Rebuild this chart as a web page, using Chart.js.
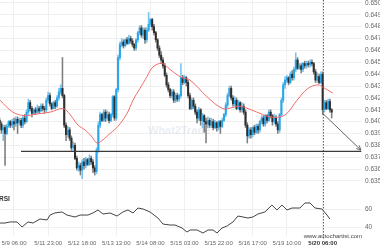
<!DOCTYPE html>
<html>
<head>
<meta charset="utf-8">
<script src="https://cdn.jsdelivr.net/npm/chart.js@4.4.0/dist/chart.umd.min.js"></script>
<style>
  html, body { margin: 0; padding: 0; background: #fff; }
  #wrap { position: relative; width: 380px; height: 250px; overflow: hidden; }
  #priceChart { position: absolute; left: 0; top: 0; }
  #rsiChart { position: absolute; left: 0; top: 192px; }
</style>
</head>
<body>
<div id="wrap">
  <canvas id="priceChart" width="380" height="192"></canvas>
  <canvas id="rsiChart" width="380" height="58"></canvas>
</div>
<script>
// x = hour index, 0 = 5/9 06:00 (trading hours only)
const timeLabels = ["5/9 06:00", "5/11 23:00", "5/12 18:00", "5/13 13:00", "5/14 08:00",
  "5/15 03:00", "5/15 22:00", "5/16 17:00", "5/19 10:00", "5/20 06:00"];
const timeTicks = [0, 19, 38, 57, 76, 95, 114, 133, 152, 172];
const priceTicks = [0.635, 0.636, 0.637, 0.638, 0.639, 0.640, 0.641, 0.642,
  0.643, 0.644, 0.645, 0.646, 0.647, 0.648, 0.649, 0.650];
const rsiTicks = [40, 60];

const firstIndex = -8;
// [open, high, low, close]
const ohlc = [
  [0.6401,0.6403,0.6395,0.6398],[0.6398,0.6400,0.6390,0.6393],[0.6393,0.6397,0.6384,0.6395],[0.6395,0.6397,0.6363,0.6390],
  [0.6390,0.6398,0.6389,0.6396],[0.6396,0.6401,0.6395,0.6400],[0.6400,0.6401,0.6395,0.6397],[0.6397,0.6402,0.6395,0.6400],
  [0.6400,0.6403,0.6393,0.6398],[0.6398,0.6404,0.6396,0.6402],[0.6402,0.6404,0.6390,0.6399],[0.6399,0.6403,0.6397,0.6401],
  [0.6401,0.6403,0.6395,0.6397],[0.6397,0.6405,0.6395,0.6403],[0.6403,0.6406,0.6398,0.6400],[0.6400,0.6410,0.6399,0.6408],
  [0.6408,0.6419,0.6406,0.6416],[0.6416,0.6418,0.6409,0.6411],
  [0.6411,0.6413,0.6404,0.6407],[0.6407,0.6411,0.6406,0.6410],[0.6410,0.6412,0.6406,0.6408],[0.6408,0.6414,0.6407,0.6411],
  [0.6411,0.6413,0.6407,0.6409],[0.6409,0.6415,0.6408,0.6413],[0.6413,0.6415,0.6409,0.6411],[0.6411,0.6413,0.6407,0.6410],
  [0.6410,0.6420,0.6408,0.6418],[0.6418,0.6425,0.6416,0.6422],
  [0.6422,0.6424,0.6413,0.6415],[0.6415,0.6416,0.6410,0.6411],[0.6411,0.6417,0.6411,0.6416],[0.6416,0.6418,0.6411,0.6413],
  [0.6413,0.6422,0.6412,0.6420],[0.6420,0.6428,0.6418,0.6425],[0.6425,0.6431,0.6423,0.6428],[0.6428,0.6454,0.6420,0.6422],
  [0.6422,0.6423,0.6395,0.6397],[0.6397,0.6399,0.6384,0.6389],
  [0.6389,0.6396,0.6387,0.6393],[0.6393,0.6395,0.6384,0.6386],[0.6386,0.6388,0.6376,0.6378],[0.6378,0.6383,0.6376,0.6380],
  [0.6380,0.6382,0.6368,0.6369],[0.6369,0.6371,0.6359,0.6361],[0.6361,0.6366,0.6358,0.6363],[0.6363,0.6365,0.6355,0.6359],
  [0.6359,0.6368,0.6352,0.6366],[0.6366,0.6369,0.6360,0.6363],
  [0.6363,0.6370,0.6361,0.6368],[0.6368,0.6369,0.6363,0.6364],[0.6364,0.6372,0.6363,0.6369],[0.6369,0.6371,0.6364,0.6366],
  [0.6366,0.6368,0.6357,0.6361],[0.6361,0.6363,0.6355,0.6358],[0.6358,0.6378,0.6356,0.6376],[0.6376,0.6400,0.6374,0.6397],
  [0.6397,0.6408,0.6395,0.6406],[0.6406,0.6407,0.6400,0.6401],
  [0.6401,0.6410,0.6400,0.6408],[0.6408,0.6410,0.6400,0.6403],[0.6403,0.6409,0.6401,0.6406],[0.6406,0.6408,0.6399,0.6401],
  [0.6401,0.6407,0.6400,0.6406],[0.6406,0.6422,0.6404,0.6421],[0.6421,0.6422,0.6401,0.6403],[0.6403,0.6428,0.6401,0.6427],
  [0.6427,0.6456,0.6425,0.6454],[0.6454,0.6467,0.6452,0.6465],
  [0.6465,0.6470,0.6463,0.6467],[0.6467,0.6469,0.6462,0.6464],[0.6464,0.6470,0.6463,0.6469],[0.6469,0.6471,0.6465,0.6466],
  [0.6466,0.6473,0.6465,0.6470],[0.6470,0.6472,0.6466,0.6468],[0.6468,0.6470,0.6463,0.6465],[0.6465,0.6466,0.6460,0.6462],
  [0.6462,0.6470,0.6460,0.6469],[0.6469,0.6476,0.6467,0.6475],
  [0.6475,0.6481,0.6473,0.6479],[0.6479,0.6481,0.6471,0.6473],[0.6473,0.6479,0.6470,0.6477],[0.6477,0.6479,0.6466,0.6469],
  [0.6469,0.6479,0.6467,0.6477],[0.6477,0.6492,0.6476,0.6482],[0.6482,0.6487,0.6480,0.6486],[0.6486,0.6487,0.6477,0.6480],
  [0.6480,0.6482,0.6473,0.6475],[0.6475,0.6476,0.6467,0.6469],
  [0.6469,0.6470,0.6460,0.6462],[0.6462,0.6464,0.6454,0.6456],[0.6456,0.6459,0.6450,0.6452],[0.6452,0.6454,0.6445,0.6447],
  [0.6447,0.6449,0.6438,0.6439],[0.6439,0.6441,0.6429,0.6431],[0.6431,0.6433,0.6425,0.6427],[0.6427,0.6428,0.6420,0.6422],
  [0.6422,0.6427,0.6420,0.6425],[0.6425,0.6427,0.6416,0.6418],
  [0.6418,0.6424,0.6416,0.6422],[0.6422,0.6424,0.6417,0.6419],[0.6419,0.6423,0.6417,0.6422],[0.6422,0.6449,0.6420,0.6437],
  [0.6437,0.6439,0.6431,0.6433],[0.6433,0.6439,0.6432,0.6437],[0.6437,0.6438,0.6430,0.6433],[0.6433,0.6435,0.6420,0.6422],
  [0.6422,0.6424,0.6410,0.6411],[0.6411,0.6420,0.6410,0.6418],
  [0.6418,0.6420,0.6411,0.6413],[0.6413,0.6415,0.6406,0.6408],[0.6408,0.6410,0.6399,0.6403],[0.6403,0.6412,0.6401,0.6410],
  [0.6410,0.6411,0.6397,0.6401],[0.6401,0.6407,0.6395,0.6405],[0.6405,0.6406,0.6391,0.6400],[0.6400,0.6403,0.6382,0.6398],
  [0.6398,0.6404,0.6395,0.6401],[0.6401,0.6403,0.6395,0.6397],
  [0.6397,0.6403,0.6395,0.6400],[0.6400,0.6402,0.6393,0.6395],[0.6395,0.6401,0.6394,0.6399],[0.6399,0.6400,0.6392,0.6395],
  [0.6395,0.6401,0.6393,0.6400],[0.6400,0.6401,0.6390,0.6396],[0.6396,0.6403,0.6395,0.6401],[0.6401,0.6407,0.6400,0.6406],
  [0.6406,0.6416,0.6404,0.6414],[0.6414,0.6424,0.6412,0.6422],
  [0.6422,0.6430,0.6421,0.6428],[0.6428,0.6430,0.6418,0.6420],[0.6420,0.6422,0.6413,0.6415],[0.6415,0.6421,0.6413,0.6418],
  [0.6418,0.6420,0.6410,0.6411],[0.6411,0.6418,0.6410,0.6416],[0.6416,0.6417,0.6408,0.6410],[0.6410,0.6416,0.6408,0.6413],
  [0.6413,0.6415,0.6406,0.6408],[0.6408,0.6410,0.6395,0.6397],
  [0.6397,0.6399,0.6382,0.6388],[0.6388,0.6395,0.6386,0.6393],[0.6393,0.6395,0.6386,0.6389],[0.6389,0.6396,0.6387,0.6395],
  [0.6395,0.6397,0.6389,0.6391],[0.6391,0.6398,0.6390,0.6396],[0.6396,0.6398,0.6390,0.6393],[0.6393,0.6401,0.6391,0.6400],
  [0.6400,0.6405,0.6398,0.6403],[0.6403,0.6405,0.6396,0.6398],
  [0.6398,0.6406,0.6396,0.6405],[0.6405,0.6406,0.6399,0.6401],[0.6401,0.6410,0.6400,0.6408],[0.6408,0.6410,0.6403,0.6405],
  [0.6405,0.6406,0.6397,0.6400],[0.6400,0.6406,0.6398,0.6403],[0.6403,0.6405,0.6396,0.6398],[0.6398,0.6400,0.6390,0.6393],
  [0.6393,0.6407,0.6391,0.6406],[0.6406,0.6420,0.6404,0.6418],
  [0.6418,0.6433,0.6416,0.6431],[0.6431,0.6438,0.6428,0.6435],[0.6435,0.6439,0.6433,0.6437],[0.6437,0.6438,0.6431,0.6433],
  [0.6433,0.6442,0.6432,0.6440],[0.6440,0.6443,0.6435,0.6437],[0.6437,0.6446,0.6435,0.6444],[0.6444,0.6458,0.6442,0.6452],
  [0.6452,0.6454,0.6444,0.6445],[0.6445,0.6449,0.6444,0.6447],
  [0.6447,0.6449,0.6441,0.6444],[0.6444,0.6450,0.6442,0.6449],[0.6449,0.6451,0.6445,0.6447],[0.6447,0.6451,0.6445,0.6449],
  [0.6449,0.6451,0.6446,0.6448],[0.6448,0.6452,0.6446,0.6450],[0.6450,0.6452,0.6447,0.6449],[0.6449,0.6450,0.6440,0.6442],
  [0.6442,0.6444,0.6433,0.6435],[0.6435,0.6441,0.6433,0.6438],
  [0.6438,0.6440,0.6432,0.6433],[0.6433,0.6442,0.6432,0.6440],[0.6440,0.6442,0.6406,0.6410],[0.6410,0.6418,0.6408,0.6416],
  [0.6416,0.6418,0.6410,0.6411],[0.6411,0.6419,0.6410,0.6417],[0.6417,0.6419,0.6408,0.6410],[0.6410,0.6411,0.6403,0.6408]
];

// moving average (red)
const maX = [-7.8, -0.6, 6.1, 10.6, 20.1, 27.3, 31.2, 35.7, 39.6, 43.5, 46.2, 49.0, 53.5, 57.9, 63.0, 66.3,
  70.2, 74.1, 77.4, 82.5, 86.9, 93.6, 98.1, 107.5, 116.4, 122.0, 125.9, 130.4, 137.0, 142.6, 148.2,
  152.1, 157.7, 163.8, 169.4, 172.1, 177.7];
const maY = [0.6418, 0.6408, 0.6405, 0.6406, 0.6408, 0.6411, 0.6406, 0.6397, 0.6393, 0.6387, 0.6382, 0.6384,
  0.6390, 0.6396, 0.6407, 0.6418, 0.6428, 0.6438, 0.6446, 0.6449, 0.6444, 0.6437, 0.6435, 0.6421, 0.6411,
  0.6412, 0.6413, 0.6411, 0.6407, 0.6404, 0.6404, 0.6407, 0.6418, 0.6428, 0.6431, 0.6429, 0.6424];

// RSI
const rsiX = [-7.8, -5, -2.2, 1.7, 4.5, 7.8, 10.6, 14.5, 18.4, 20.1, 22.8, 26.7, 29.5, 34.0, 36.8, 41.2, 44.0,
  46.8, 49.6, 53.5, 57.4, 60.7, 63.5, 66.3, 69.1, 71.9, 75.8, 80.2, 83.0, 86.9, 89.7, 93.6, 96.4, 98.1, 102,
  105.3, 108.1, 110.9, 113.1, 115.9, 118.7, 122, 124.8, 127.6, 130.4, 133.1, 135.9, 139.8, 143.7, 146.5,
  149.3, 152.1, 154.9, 159.3, 162.1, 164.9, 167.7, 171.6, 174.4, 176];
const rsiY = [44.4, 44.4, 45.6, 45.6, 40, 45.6, 44.4, 48.9, 47.8, 53.3, 55.6, 56.7, 53.3, 51.1, 53.3, 53.3, 55.6,
  58.9, 54.4, 55.6, 52.2, 56.7, 58.9, 55.6, 61.1, 60, 56.7, 50, 43.3, 42.2, 42.2, 38.9, 34.4, 36.7, 36.7,
  33.3, 36.7, 36.7, 33.3, 38.9, 41.1, 45.6, 52.2, 51.1, 50, 51.1, 54.4, 56.7, 64.4, 58.9,
  64.4, 58.9, 61.1, 61.1, 66.7, 66.7, 61.1, 60, 53.3, 48.9];

const levelPrice = 0.6375;
const levelFrom = 3.9, levelTo = 193.5;
const arrowFrom = [172, 0.6407], arrowTo = [193.3, 0.6376];
const nowIndex = 172;

const xMin = -7.8, xMax = 193.9;
const upColor = "#2aa5e8", downColor = "#2e2e2e", upWick = "#74c3ef", downWick = "#7d7d7d";

Chart.defaults.font.family = "'Liberation Sans', Arial, sans-serif";
Chart.defaults.animation = false;

function isUp(c) { return c[3] >= c[0]; }

function xAxis(showLabels) {
  return {
    type: "linear", min: xMin, max: xMax, offset: false,
    border: { display: false },
    grid: { color: "#efefef", drawTicks: false, offset: false },
    afterBuildTicks: s => { s.ticks = timeTicks.map(v => ({ value: v })); },
    afterFit: s => { s.height = showLabels ? 14 : 0; s.paddingLeft = 0; s.paddingRight = 0; },
    ticks: {
      display: showLabels, autoSkip: false, maxRotation: 0, padding: 4,
      color: ctx => ctx.tick && ctx.tick.value === nowIndex ? "#333" : "#666",
      font: ctx => ({ size: 6, weight: ctx.tick && ctx.tick.value === nowIndex ? "bold" : "normal" }),
      callback: (v, i) => timeLabels[i]
    }
  };
}

function yAxis(min, max, ticks, fmt) {
  return {
    position: "right", min: min, max: max,
    border: { display: false },
    grid: { color: "#f0f0f0", drawTicks: false },
    afterBuildTicks: s => { s.ticks = ticks.map(v => ({ value: v })); },
    afterFit: s => { s.width = 18; s.paddingTop = 0; s.paddingBottom = 0; },
    ticks: { padding: 3, color: "#666", font: { size: 6.5 }, callback: fmt }
  };
}

function drawNowLine(chart, bottom) {
  const c = chart.ctx, x = chart.scales.x.getPixelForValue(nowIndex);
  c.save();
  c.strokeStyle = "#666"; c.lineWidth = 1; c.setLineDash([1.5, 1.5]);
  c.beginPath(); c.moveTo(Math.round(x) + 0.5, 0); c.lineTo(Math.round(x) + 0.5, bottom); c.stroke();
  c.restore();
}

const priceOverlay = {
  id: "priceOverlay",
  beforeDatasetsDraw(chart) {
    const c = chart.ctx, a = chart.chartArea;
    c.save();
    c.fillStyle = "rgba(190,205,220,0.35)";
    c.font = "bold 11px 'Liberation Sans', Arial";
    c.fillText("What2Trade", a.left + 148, a.top + 134);
    c.restore();
  },
  afterDatasetsDraw(chart) {
    const c = chart.ctx, xs = chart.scales.x, ys = chart.scales.y;
    drawNowLine(chart, chart.height);
    c.save();
    // support level
    const ly = ys.getPixelForValue(levelPrice);
    c.strokeStyle = "#3c3c3c"; c.lineWidth = 1.3;
    c.beginPath(); c.moveTo(xs.getPixelForValue(levelFrom), ly); c.lineTo(xs.getPixelForValue(levelTo), ly); c.stroke();
    // forecast arrow
    const x1 = xs.getPixelForValue(arrowFrom[0]), y1 = ys.getPixelForValue(arrowFrom[1]);
    const x2 = xs.getPixelForValue(arrowTo[0]), y2 = ys.getPixelForValue(arrowTo[1]);
    const ang = Math.atan2(y2 - y1, x2 - x1);
    c.strokeStyle = "#666"; c.lineWidth = 1;
    c.beginPath(); c.moveTo(x1, y1); c.lineTo(x2, y2); c.stroke();
    c.beginPath();
    c.moveTo(x2 - 5 * Math.cos(ang - 0.45), y2 - 5 * Math.sin(ang - 0.45));
    c.lineTo(x2, y2);
    c.lineTo(x2 - 5 * Math.cos(ang + 0.45), y2 - 5 * Math.sin(ang + 0.45));
    c.stroke();
    c.restore();
  }
};

const rsiOverlay = {
  id: "rsiOverlay",
  afterDatasetsDraw(chart) {
    const c = chart.ctx, a = chart.chartArea;
    drawNowLine(chart, a.bottom + 3);
    c.save();
    c.fillStyle = "#333"; c.font = "bold 6.5px 'Liberation Sans', Arial";
    c.textBaseline = "middle";
    c.fillText("RSI", a.left - 1, a.top + 7);
    c.fillStyle = "#444"; c.font = "6px 'Liberation Sans', Arial";
    c.textAlign = "right";
    c.fillText("www.autochartist.com", a.right, a.bottom + 0.5);
    c.restore();
  }
};

new Chart(document.getElementById("priceChart"), {
  type: "bar",
  data: {
    datasets: [
      {
        type: "line", label: "MA", order: 0,
        data: maX.map((x, i) => ({ x: x, y: maY[i] })),
        borderColor: "#f06a6a", borderWidth: 1, pointRadius: 0, tension: 0.4
      },
      {
        label: "wick", order: 2, grouped: false, barThickness: 0.9,
        data: ohlc.map((c, i) => ({ x: firstIndex + i, y: [c[2], c[1]] })),
        backgroundColor: ohlc.map(c => isUp(c) ? upWick : downWick)
      },
      {
        label: "body", order: 1, grouped: false, barThickness: 1.4, minBarLength: 1,
        data: ohlc.map((c, i) => ({ x: firstIndex + i, y: [c[0], c[3]] })),
        backgroundColor: ohlc.map(c => isUp(c) ? upColor : downColor)
      }
    ]
  },
  options: {
    responsive: false,
    layout: { padding: 0 },
    plugins: { legend: { display: false }, tooltip: { enabled: false } },
    scales: {
      x: xAxis(false),
      y: yAxis(0.63407, 0.65025, priceTicks, v => v.toFixed(3))
    }
  },
  plugins: [priceOverlay]
});

new Chart(document.getElementById("rsiChart"), {
  type: "line",
  data: {
    datasets: [{
      label: "RSI",
      data: rsiX.map((x, i) => ({ x: x, y: rsiY[i] })),
      borderColor: "#444", borderWidth: 1, pointRadius: 0, tension: 0
    }]
  },
  options: {
    responsive: false,
    layout: { padding: 0 },
    plugins: { legend: { display: false }, tooltip: { enabled: false } },
    scales: {
      x: xAxis(true),
      y: yAxis(30, 78.9, rsiTicks, v => String(v))
    }
  },
  plugins: [rsiOverlay]
});
</script>
</body>
</html>
